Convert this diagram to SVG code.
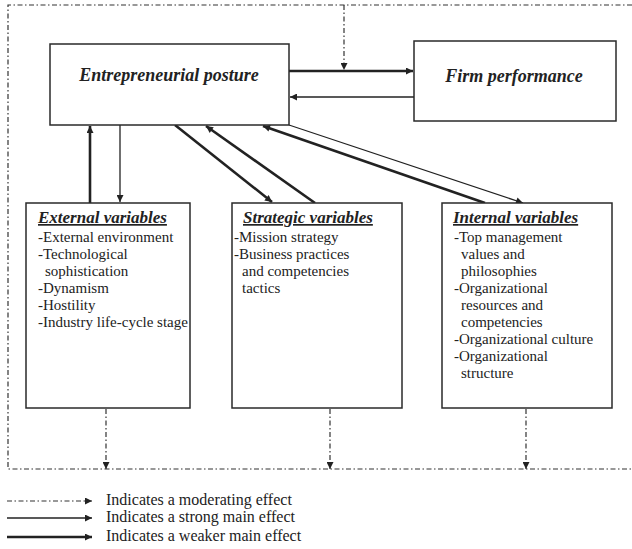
<svg xmlns="http://www.w3.org/2000/svg" width="632" height="549" viewBox="0 0 632 549">
  <style>
    .box { fill: #fff; stroke: #2a2a2a; stroke-width: 1.5; }
    .title { font-family: "Liberation Serif", "Times New Roman", serif; font-weight: bold; font-style: italic; font-size: 18px; fill: #222; }
    .head { font-family: "Liberation Serif", "Times New Roman", serif; font-weight: bold; font-style: italic; font-size: 17px; fill: #222; text-decoration: underline; }
    .body { font-family: "Liberation Serif", "Times New Roman", serif; font-size: 15px; fill: #222; }
    .legend { font-family: "Liberation Serif", "Times New Roman", serif; font-size: 16px; fill: #222; }
    .thick { stroke: #222; stroke-width: 2.6; fill: none; marker-end: url(#head); }
    .thin { stroke: #222; stroke-width: 1.3; fill: none; marker-end: url(#head); }
    .mod { stroke: #333; stroke-width: 1.2; fill: none; stroke-dasharray: 5 2.5 1.5 2.5; }
    .moda { stroke: #333; stroke-width: 1.2; fill: none; stroke-dasharray: 5 2.5 1.5 2.5; marker-end: url(#dhead); }
  </style>
  <defs>
    <marker id="head" viewBox="0 0 10 10" refX="10" refY="5" markerWidth="10" markerHeight="7" markerUnits="userSpaceOnUse" orient="auto">
      <path d="M0,0 L10,5 L0,10 z" fill="#222"/>
    </marker>
    <marker id="dhead" viewBox="0 0 10 10" refX="10" refY="5" markerWidth="8" markerHeight="7" markerUnits="userSpaceOnUse" orient="auto">
      <path d="M0,0 L10,5 L0,10 z" fill="#222"/>
    </marker>
  </defs>

  <rect width="632" height="549" fill="#fff"/>

  <!-- moderating frame around the model -->
  <g id="frame">
    <path class="mod" d="M632,5 H8 V469 H632"/>
  </g>

  <g id="connectors">
    <line class="thick" x1="289" y1="71" x2="413" y2="71"/>
    <line class="thin" x1="414" y1="97" x2="290" y2="97"/>
    <line class="thick" x1="90" y1="203" x2="90" y2="126"/>
    <line class="thin" x1="120" y1="125" x2="120" y2="202"/>
    <line class="thick" x1="175" y1="125" x2="272" y2="202"/>
    <line class="thick" x1="315" y1="203" x2="206" y2="126"/>
    <line class="thick" x1="485" y1="203" x2="263" y2="126"/>
    <line class="thin" x1="289" y1="125" x2="523" y2="203"/>
    <line class="moda" x1="344" y1="5" x2="344" y2="70"/>
    <line class="moda" x1="106" y1="409" x2="106" y2="469"/>
    <line class="moda" x1="330" y1="409" x2="330" y2="469"/>
    <line class="moda" x1="526" y1="409" x2="526" y2="469"/>
  </g>

  <g id="entrepreneurial-posture">
    <rect class="box" x="50" y="44" width="239" height="81"/>
    <text class="title" x="169" y="81" text-anchor="middle">Entrepreneurial  posture</text>
  </g>

  <g id="firm-performance">
    <rect class="box" x="414" y="41" width="202" height="80"/>
    <text class="title" x="514" y="82" text-anchor="middle">Firm performance</text>
  </g>

  <g id="external-variables">
    <rect class="box" x="26" y="203" width="164" height="205"/>
    <text class="head" x="38" y="223">External variables</text>
    <text class="body" x="38" y="242">-External environment</text>
    <text class="body" x="38" y="259">-Technological</text>
    <text class="body" x="45" y="276">sophistication</text>
    <text class="body" x="38" y="293">-Dynamism</text>
    <text class="body" x="38" y="310">-Hostility</text>
    <text class="body" x="38" y="327">-Industry life-cycle stage</text>
  </g>

  <g id="strategic-variables">
    <rect class="box" x="232" y="203" width="170" height="205"/>
    <text class="head" x="243" y="223">Strategic variables</text>
    <text class="body" x="234" y="242">-Mission strategy</text>
    <text class="body" x="234" y="259">-Business practices</text>
    <text class="body" x="242" y="276">and  competencies</text>
    <text class="body" x="242" y="293">tactics</text>
  </g>

  <g id="internal-variables">
    <rect class="box" x="442" y="203" width="170" height="205"/>
    <text class="head" x="453" y="223">Internal variables</text>
    <text class="body" x="454" y="242">-Top management</text>
    <text class="body" x="461" y="259">values  and</text>
    <text class="body" x="461" y="276">philosophies</text>
    <text class="body" x="454" y="293">-Organizational</text>
    <text class="body" x="461" y="310">resources  and</text>
    <text class="body" x="461" y="327">competencies</text>
    <text class="body" x="454" y="344">-Organizational culture</text>
    <text class="body" x="454" y="361">-Organizational</text>
    <text class="body" x="461" y="378">structure</text>
  </g>

  <g id="legend">
    <line class="moda" x1="7" y1="501" x2="92" y2="501"/>
    <line class="thin" x1="7" y1="518" x2="92" y2="518"/>
    <line class="thick" x1="7" y1="537" x2="92" y2="537"/>
    <text class="legend" x="106" y="505">Indicates a moderating effect</text>
    <text class="legend" x="106" y="522">Indicates a strong main effect</text>
    <text class="legend" x="106" y="541">Indicates a weaker main effect</text>
  </g>
</svg>
